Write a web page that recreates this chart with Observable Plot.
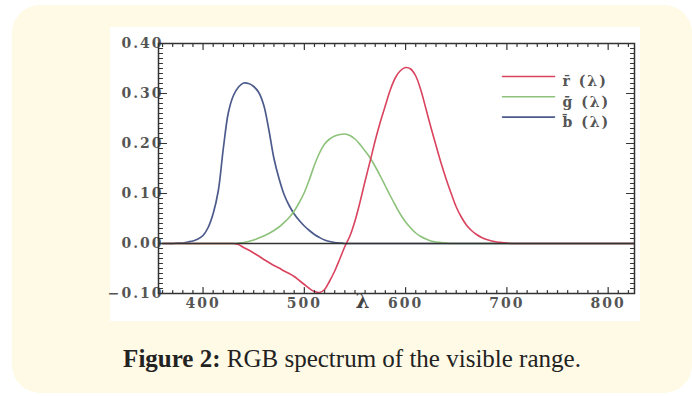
<!DOCTYPE html>
<html><head><meta charset="utf-8">
<script src="https://cdn.jsdelivr.net/npm/d3@7"></script>
<script src="https://cdn.jsdelivr.net/npm/@observablehq/plot@0.6"></script>
<style>
html,body{margin:0;padding:0;background:#fff;width:692px;height:396px;overflow:hidden;}
#panel{position:absolute;left:12px;top:5px;width:680px;height:388px;background:#fffae6;border-radius:28px;}
#chart{position:absolute;left:110px;top:27px;}
#chart svg text{letter-spacing:2px;}
#caption{position:absolute;left:12px;width:680px;top:345px;text-align:center;font-family:"Liberation Serif",serif;font-size:25px;color:#222;}
</style></head><body>
<div id="panel"></div>
<div id="chart"></div>
<div id="caption"><b>Figure 2:</b> RGB spectrum of the visible range.</div>
<script>
const lambda = [360,365,370,375,380,385,390,395,400,405,410,415,420,425,430,435,440,445,450,455,460,465,470,475,480,485,490,495,500,505,510,515,520,525,530,535,540,545,550,555,560,565,570,575,580,585,590,595,600,605,610,615,620,625,630,635,640,645,650,655,660,665,670,675,680,685,690,695,700,705,710,715,720,825];
const blue = [0,0,0,0.001,0.001,0.003,0.005,0.009,0.016,0.032,0.06,0.105,0.19,0.262,0.296,0.313,0.321,0.32,0.314,0.302,0.276,0.227,0.17,0.13,0.098,0.076,0.059,0.046,0.035,0.026,0.018,0.012,0.007,0.004,0.002,0.001,0,0,0,0,0,0,0,0,0,0,0,0,0,0,0,0,0,0,0,0,0,0,0,0,0,0,0,0,0,0,0,0,0,0,0,0,0,0];
const green = [0,0,0,0,0,0,0,0,0,0,0,0,0,0,0,0.001,0.002,0.004,0.007,0.011,0.015,0.02,0.026,0.033,0.042,0.052,0.065,0.082,0.102,0.128,0.157,0.181,0.199,0.209,0.215,0.218,0.219,0.216,0.209,0.198,0.185,0.171,0.154,0.135,0.115,0.095,0.076,0.058,0.043,0.031,0.021,0.014,0.009,0.005,0.003,0.002,0.001,0,0,0,0,0,0,0,0,0,0,0,0,0,0,0,0,0];
const red = [0,0,0,0,0,0,0,0,0,0,0,0,0,0,0,-0.002,-0.008,-0.013,-0.019,-0.025,-0.032,-0.038,-0.044,-0.049,-0.055,-0.06,-0.066,-0.074,-0.082,-0.09,-0.096,-0.098,-0.092,-0.075,-0.055,-0.031,-0.006,0.015,0.045,0.083,0.125,0.165,0.206,0.243,0.276,0.308,0.332,0.346,0.352,0.349,0.335,0.307,0.27,0.232,0.196,0.161,0.129,0.1,0.073,0.053,0.037,0.026,0.018,0.012,0.008,0.005,0.003,0.002,0.001,0,0,0,0,0];
const seriesNames = ["r\u0304 (\u03bb)", "g\u0304 (\u03bb)", "b\u0304 (\u03bb)"];
const seriesColors = ["#d9435e", "#8dc27a", "#4c5b8c"];
const xTicks = [400,500,600,700,800];
const yTicks = [-0.1,0,0.1,0.2,0.3,0.4];
const xDomain = [356, 826];
const yDomain = [-0.1, 0.4];

const xMinor = d3.range(360, 826, 10).filter(d => d % 100 !== 0);
const yMinor = d3.range(-10, 41, 1).filter(d => d % 10 !== 0).map(d => d / 100);
const rows = lambda.map((l, i) => ({l, r: red[i], g: green[i], b: blue[i]}));
const seg = {draw(c, l) { c.moveTo(0, 0); c.lineTo(0, -l); }};
const tickStyle = {stroke: "#333", strokeWidth: 1.2, anchor: "start", shape: seg};

const legendMarks = seriesNames.flatMap((name, i) => [
  Plot.vector([0], {frameAnchor: "top-right", dx: -132, dy: 33 + 20.3 * i, rotate: 90, length: 52, shape: seg, anchor: "start", stroke: seriesColors[i], strokeWidth: 1.6}),
  Plot.text([name], {frameAnchor: "top-right", dx: -72, dy: 33 + 20.3 * i, textAnchor: "start", fill: "#555", fontSize: 14})
]);

const chart = Plot.plot({
  width: 530, height: 294,
  marginLeft: 48, marginRight: 6, marginTop: 16, marginBottom: 28,
  style: {background: "white", fontFamily: "DejaVu Serif", fontSize: "14px", fontWeight: "bold", color: "#555", overflow: "visible"},
  x: {domain: xDomain},
  y: {domain: yDomain},
  marks: [
    Plot.axisX(xTicks, {anchor: "bottom", tickSize: 0, tickPadding: 5, tickFormat: d => String(d), fill: "#555", label: null}),
    Plot.axisY(yTicks, {anchor: "left", tickSize: 0, tickPadding: -5, tickFormat: d3.format(".2f"), fill: "#555", label: null}),
    Plot.line(rows, {x: "l", y: "b", stroke: seriesColors[2], strokeWidth: 1.7, curve: "catmull-rom"}),
    Plot.line(rows, {x: "l", y: "g", stroke: seriesColors[1], strokeWidth: 1.6, curve: "catmull-rom"}),
    Plot.line(rows, {x: "l", y: "r", stroke: seriesColors[0], strokeWidth: 1.6, curve: "catmull-rom"}),
    Plot.ruleY([0], {stroke: "#333", strokeWidth: 1.6}),
    Plot.vector(xMinor, {x: d => d, y: yDomain[0], length: 3, rotate: 0, ...tickStyle}),
    Plot.vector(xTicks, {x: d => d, y: yDomain[0], length: 6, rotate: 0, ...tickStyle}),
    Plot.vector(xMinor, {x: d => d, y: yDomain[1], length: 3, rotate: 180, ...tickStyle}),
    Plot.vector(xTicks, {x: d => d, y: yDomain[1], length: 6, rotate: 180, ...tickStyle}),
    Plot.vector(yMinor, {x: xDomain[0], y: d => d, length: 4, rotate: 90, ...tickStyle}),
    Plot.vector(yTicks, {x: xDomain[0], y: d => d, length: 8, rotate: 90, ...tickStyle}),
    Plot.vector(yMinor, {x: xDomain[1], y: d => d, length: 4, rotate: -90, ...tickStyle}),
    Plot.vector(yTicks, {x: xDomain[1], y: d => d, length: 8, rotate: -90, ...tickStyle}),
    Plot.frame({stroke: "#333", strokeWidth: 1.5}),
    Plot.text(["\u03bb"], {frameAnchor: "bottom", dx: -33, dy: 14, fontSize: 20, fill: "#444"}),
    ...legendMarks
  ]
});
document.getElementById("chart").appendChild(chart);
</script>
</body></html>
